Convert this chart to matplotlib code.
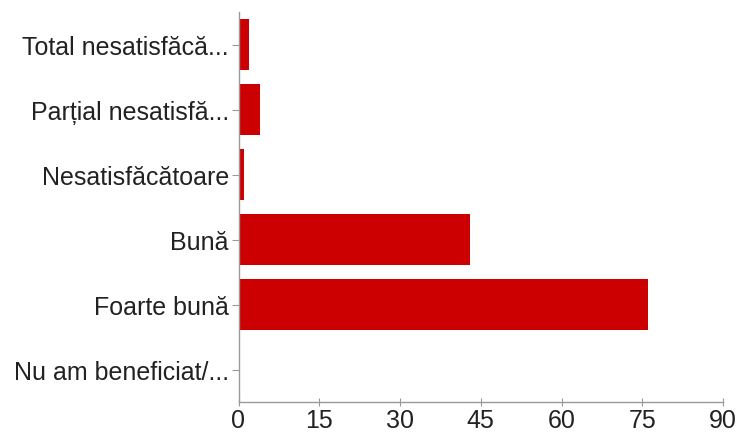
import matplotlib
matplotlib.use("Agg")
import matplotlib.pyplot as plt

categories = [
    "Total nesatisfăcă...",
    "Parțial nesatisfă...",
    "Nesatisfăcătoare",
    "Bună",
    "Foarte bună",
    "Nu am beneficiat/...",
]
counts = [2, 4, 1, 43, 76, 0]
x_ticks = [0, 15, 30, 45, 60, 75, 90]

plt.rcParams["font.family"] = ["Liberation Sans", "DejaVu Sans"]

fig = plt.figure(figsize=(7.44, 4.35), dpi=100)
ax = fig.add_axes([238.5 / 744, 32 / 435, (723 - 238.5) / 744, 390 / 435])

pos = list(range(len(categories)))
ax.barh(pos, counts, height=0.78, color="#cc0000", edgecolor="none")

ax.set_ylim(len(categories) - 0.5, -0.5)
ax.set_xlim(0, 90)
ax.set_yticks(pos)
ax.set_yticklabels(categories)
ax.set_xticks(x_ticks)
ax.set_xticklabels([str(t) for t in x_ticks])

for side in ("top", "right"):
    ax.spines[side].set_visible(False)
for side in ("left", "bottom"):
    ax.spines[side].set_color("#999999")
    ax.spines[side].set_linewidth(1.0)

ax.tick_params(axis="y", direction="out", length=5, color="#999999",
               labelsize=18, labelcolor="#222222", pad=2)
ax.tick_params(axis="x", direction="inout", length=6, color="#999999",
               labelsize=18, labelcolor="#222222", pad=1)

fig.savefig("out.png", dpi=100)
